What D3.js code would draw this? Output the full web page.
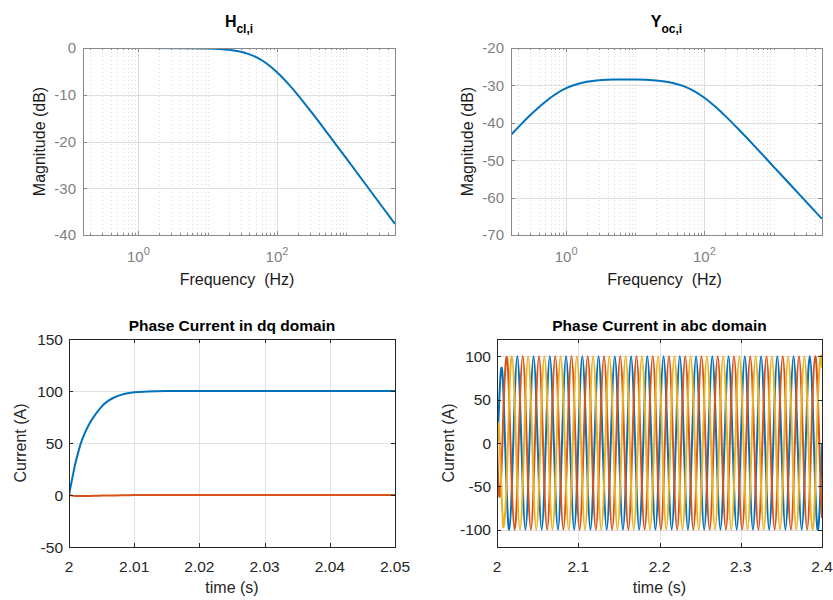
<!DOCTYPE html>
<html lang="en">
<head>
<meta charset="UTF-8">
<title>Current loop response</title>
<script src="https://cdn.jsdelivr.net/npm/d3@7/dist/d3.min.js"></script>
<style>
	body {
		margin: 0;
		background-color: #ffffff;
	}
	svg {
		font-family: "Liberation Sans", Arial, sans-serif;
	}
</style>
</head>
<body>
<div id="chart"></div>

<script>
// ---- Bode magnitudes (Hz, dB) ----
var freqRange = [0.159, 5033];
var freqMajor = [1, 100];

var hclFreq = [0.159, 1, 5, 10, 20, 30, 40, 50, 70, 100, 150, 200, 300, 500, 700, 1000, 2000, 3000, 5033];
var hclMag  = [0, 0, -0.03, -0.1, -0.38, -0.82, -1.36, -1.97, -3.27, -5.18, -7.9, -10.08, -13.36, -17.66, -20.55, -23.63, -29.63, -33.15, -37.65];
var hclTicks = [-40, -30, -20, -10, 0];

var yocFreq = [0.159, 0.2, 0.3, 0.5, 0.7, 1, 1.5, 2, 3, 5, 10, 20, 30, 50, 70, 100, 150, 200, 300, 500, 1000, 2000, 3000, 5033];
var yocMag  = [-43.2, -41.3, -38.0, -34.35, -32.36, -30.75, -29.56, -29.05, -28.65, -28.45, -28.42, -28.66, -29.07, -30.18, -31.44, -33.3, -35.98, -38.15, -41.4, -45.7, -51.7, -57.7, -61.2, -65.7];
var yocTicks = [-70, -60, -50, -40, -30, -20];

// ---- dq currents (time in ms after t = 2 s, current in A) ----
var dqTime = [0, 0.5, 1, 1.5, 2, 3, 4, 5, 6, 7, 8, 9, 10, 12, 15, 20, 30, 50];
var idVals = [0, 16, 31, 43, 53, 67, 77, 85, 90.5, 94, 96.3, 97.8, 98.8, 99.6, 100, 100, 100, 100];
var iqVals = [0, -0.6, -0.9, -1, -1, -0.9, -0.8, -0.6, -0.5, -0.4, -0.3, -0.2, -0.1, 0, 0, 0, 0, 0];
var dqXTicks = [2, 2.01, 2.02, 2.03, 2.04, 2.05];
var dqYTicks = [-50, 0, 50, 100, 150];

// ---- abc currents (time in ms after t = 2 s, current in A) ----
var abcTime = [0, 0.5, 1, 1.5, 2, 2.5, 3, 3.5, 4, 4.5, 5, 5.5, 6, 6.5, 7, 8.3, 11.7,
	15, 18.3, 21.7, 25, 28.3, 31.7, 35, 38.3, 41.7, 45, 48.3, 51.7,
	55, 58.3, 61.7, 65, 68.3, 71.7, 75, 78.3, 81.7, 85, 88.3, 91.7,
	95, 98.3, 101.7, 105, 108.3, 111.7, 115, 118.3, 121.7, 125, 128.3, 131.7,
	135, 138.3, 141.7, 145, 148.3, 151.7, 155, 158.3, 161.7, 165, 168.3, 171.7,
	175, 178.3, 181.7, 185, 188.3, 191.7, 195, 198.3, 201.7, 205, 208.3, 211.7,
	215, 218.3, 221.7, 225, 228.3, 231.7, 235, 238.3, 241.7, 245, 248.3, 251.7,
	255, 258.3, 261.7, 265, 268.3, 271.7, 275, 278.3, 281.7, 285, 288.3, 291.7,
	295, 298.3, 301.7, 305, 308.3, 311.7, 315, 318.3, 321.7, 325, 328.3, 331.7,
	335, 338.3, 341.7, 345, 348.3, 351.7, 355, 358.3, 361.7, 365, 368.3, 371.7,
	375, 378.3, 381.7, 385, 388.3, 391.7, 395, 398.3, 400];
var iaVals = [0, 2.5, 9.6, 19.5, 31.2, 43.1, 54.2, 64.2, 73.2, 80, 85, 86.9, 86.1, 82.4, 76, 48.3, -49.5,
	-100, -50, 50, 100, 50, -50, -100, -50, 50, 100, 50, -50,
	-100, -50, 50, 100, 50, -50, -100, -50, 50, 100, 50, -50,
	-100, -50, 50, 100, 50, -50, -100, -50, 50, 100, 50, -50,
	-100, -50, 50, 100, 50, -50, -100, -50, 50, 100, 50, -50,
	-100, -50, 50, 100, 50, -50, -100, -50, 50, 100, 50, -50,
	-100, -50, 50, 100, 50, -50, -100, -50, 50, 100, 50, -50,
	-100, -50, 50, 100, 50, -50, -100, -50, 50, 100, 50, -50,
	-100, -50, 50, 100, 50, -50, -100, -50, 50, 100, 50, -50,
	-100, -50, 50, 100, 50, -50, -100, -50, 50, 100, 50, -50,
	-100, -50, 50, 100, 50, -50, -100, -50, 0];
var ibVals = [0, -14.9, -30.3, -43, -52.7, -58.9, -62, -61, -57.2, -51, -42.5, -31.5, -18.8, -4.8, 9.8, 48.3, 99,
	50, -50, -100, -50, 50, 100, 50, -50, -100, -50, 50, 100,
	50, -50, -100, -50, 50, 100, 50, -50, -100, -50, 50, 100,
	50, -50, -100, -50, 50, 100, 50, -50, -100, -50, 50, 100,
	50, -50, -100, -50, 50, 100, 50, -50, -100, -50, 50, 100,
	50, -50, -100, -50, 50, 100, 50, -50, -100, -50, 50, 100,
	50, -50, -100, -50, 50, 100, 50, -50, -100, -50, 50, 100,
	50, -50, -100, -50, 50, 100, 50, -50, -100, -50, 50, 100,
	50, -50, -100, -50, 50, 100, 50, -50, -100, -50, 50, 100,
	50, -50, -100, -50, 50, 100, 50, -50, -100, -50, 50, 100,
	50, -50, -100, -50, 50, 100, 50, -50, -86.6];
var icVals = [0, 12.4, 20.7, 23.4, 21.6, 15.8, 7, -3.8, -16, -29, -42.5, -55.4, -67.2, -77.6, -85.9, -96.5, -49.5,
	50, 100, 50, -50, -100, -50, 50, 100, 50, -50, -100, -50,
	50, 100, 50, -50, -100, -50, 50, 100, 50, -50, -100, -50,
	50, 100, 50, -50, -100, -50, 50, 100, 50, -50, -100, -50,
	50, 100, 50, -50, -100, -50, 50, 100, 50, -50, -100, -50,
	50, 100, 50, -50, -100, -50, 50, 100, 50, -50, -100, -50,
	50, 100, 50, -50, -100, -50, 50, 100, 50, -50, -100, -50,
	50, 100, 50, -50, -100, -50, 50, 100, 50, -50, -100, -50,
	50, 100, 50, -50, -100, -50, 50, 100, 50, -50, -100, -50,
	50, 100, 50, -50, -100, -50, 50, 100, 50, -50, -100, -50,
	50, 100, 50, -50, -100, -50, 50, 100, 86.6];
var abcXTicks = [2, 2.1, 2.2, 2.3, 2.4];
var abcYTicks = [-100, -50, 0, 50, 100];

var blue = '#0072bd', red = '#d95319', yellow = '#edb120';

var svg = d3.select('#chart').append('svg')
	.attr('width', 833)
	.attr('height', 600);

var clipId = 0;
function addClip(box) {
	clipId++;
	svg.append('clipPath').attr('id', 'clip' + clipId)
		.append('rect')
		.attr('x', box.l).attr('y', box.t)
		.attr('width', box.r - box.l).attr('height', box.b - box.t);
	return 'url(#clip' + clipId + ')';
}

function hLine(g, y0, box, color, len) {
	g.append('line').attr('x1', box.l).attr('x2', box.l + len).attr('y1', y0).attr('y2', y0).attr('stroke', color);
	g.append('line').attr('x1', box.r).attr('x2', box.r - len).attr('y1', y0).attr('y2', y0).attr('stroke', color);
}
function vLine(g, x0, box, color, len) {
	g.append('line').attr('x1', x0).attr('x2', x0).attr('y1', box.b).attr('y2', box.b - len).attr('stroke', color);
	g.append('line').attr('x1', x0).attr('x2', x0).attr('y1', box.t).attr('y2', box.t + len).attr('stroke', color);
}

function bodePanel(box, freq, mag, yTicks, main, sub) {
	var x = d3.scaleLog().domain(freqRange).range([box.l, box.r]);
	var y = d3.scaleLinear().domain([yTicks[0], yTicks[yTicks.length - 1]]).range([box.b, box.t]);
	var g = svg.append('g');
	var minor = x.ticks().filter(function (d) {
		return freqMajor.indexOf(d) < 0;
	});

	// grid
	g.selectAll('.minor').data(minor).enter().append('line')
		.attr('x1', function (d) { return Math.round(x(d)) + 0.5; })
		.attr('x2', function (d) { return Math.round(x(d)) + 0.5; })
		.attr('y1', box.t).attr('y2', box.b)
		.attr('stroke', '#dcdcdc')
		.attr('stroke-dasharray', '1,3');
	g.selectAll('.majx').data(freqMajor).enter().append('line')
		.attr('x1', function (d) { return Math.round(x(d)) + 0.5; })
		.attr('x2', function (d) { return Math.round(x(d)) + 0.5; })
		.attr('y1', box.t).attr('y2', box.b)
		.attr('stroke', '#dedede');
	g.selectAll('.majy').data(yTicks).enter().append('line')
		.attr('x1', box.l).attr('x2', box.r)
		.attr('y1', function (d) { return Math.round(y(d)) + 0.5; })
		.attr('y2', function (d) { return Math.round(y(d)) + 0.5; })
		.attr('stroke', '#dedede');

	// curve
	var line = d3.line()
		.x(function (d, i) { return x(freq[i]); })
		.y(function (d) { return y(d); })
		.curve(d3.curveMonotoneX);
	g.append('path').datum(mag)
		.attr('clip-path', addClip(box))
		.attr('d', line)
		.attr('fill', 'none')
		.attr('stroke', blue)
		.attr('stroke-width', 2);

	// box and ticks
	var axisColor = '#8a8a8a';
	g.append('rect')
		.attr('x', box.l + 0.5).attr('y', box.t + 0.5)
		.attr('width', box.r - box.l).attr('height', box.b - box.t)
		.attr('fill', 'none').attr('stroke', axisColor);
	yTicks.forEach(function (d) { hLine(g, Math.round(y(d)) + 0.5, box, axisColor, 4); });
	freqMajor.forEach(function (d) { vLine(g, Math.round(x(d)) + 0.5, box, axisColor, 4); });
	minor.forEach(function (d) { vLine(g, Math.round(x(d)) + 0.5, box, axisColor, 2); });

	// tick labels
	g.selectAll('.ylab').data(yTicks).enter().append('text')
		.attr('x', box.l - 7)
		.attr('y', function (d) { return y(d); })
		.attr('dy', '0.36em')
		.attr('text-anchor', 'end')
		.style('font-size', '15px')
		.attr('fill', '#7f7f7f')
		.text(function (d) { return d; });
	var xl = g.selectAll('.xlab').data(freqMajor).enter().append('text')
		.attr('x', function (d) { return x(d); })
		.attr('y', box.b + 27)
		.attr('text-anchor', 'middle')
		.style('font-size', '15px')
		.attr('fill', '#7f7f7f');
	xl.append('tspan').text('10');
	xl.append('tspan')
		.attr('dy', -7)
		.style('font-size', '11px')
		.text(function (d) { return Math.round(Math.log10(d)); });

	// labels
	svg.append('text')
		.attr('x', (box.l + box.r) / 2 - 2)
		.attr('y', box.b + 50)
		.attr('text-anchor', 'middle')
		.style('font-size', '16px')
		.style('white-space', 'pre')
		.attr('fill', '#1a1a1a')
		.text('Frequency  (Hz)');
	svg.append('text')
		.attr('transform', 'translate(' + (box.l - 38) + ',' + ((box.t + box.b) / 2) + ') rotate(-90)')
		.attr('text-anchor', 'middle')
		.style('font-size', '16px')
		.attr('fill', '#1a1a1a')
		.text('Magnitude (dB)');
	var title = svg.append('text')
		.attr('x', (box.l + box.r) / 2)
		.attr('y', 27)
		.attr('text-anchor', 'middle')
		.style('font-weight', 'bold')
		.attr('fill', '#000');
	title.append('tspan').style('font-size', '16px').text(main);
	title.append('tspan').attr('dy', 6).style('font-size', '12px').text(sub);
}

function timePanel(box, xTicks, yTicks, yDomain, times, series, colors, titleText) {
	var x = d3.scaleLinear().domain([xTicks[0], xTicks[xTicks.length - 1]]).range([box.l, box.r]);
	var y = d3.scaleLinear().domain(yDomain).range([box.b, box.t]);
	var g = svg.append('g');
	var axisColor = '#262626';

	g.selectAll('.gx').data(xTicks).enter().append('line')
		.attr('x1', function (d) { return Math.round(x(d)) + 0.5; })
		.attr('x2', function (d) { return Math.round(x(d)) + 0.5; })
		.attr('y1', box.t).attr('y2', box.b)
		.attr('stroke', '#e1e1e1');
	g.selectAll('.gy').data(yTicks).enter().append('line')
		.attr('x1', box.l).attr('x2', box.r)
		.attr('y1', function (d) { return Math.round(y(d)) + 0.5; })
		.attr('y2', function (d) { return Math.round(y(d)) + 0.5; })
		.attr('stroke', '#e1e1e1');

	var clip = addClip(box);
	series.forEach(function (vals, k) {
		var line = d3.line()
			.x(function (d, i) { return x(2 + times[i] / 1000); })
			.y(function (d) { return y(d); })
			.curve(d3.curveNatural);
		g.append('path').datum(vals)
			.attr('clip-path', clip)
			.attr('d', line)
			.attr('fill', 'none')
			.attr('stroke', colors[k])
			.attr('stroke-width', 2);
	});

	g.append('rect')
		.attr('x', box.l + 0.5).attr('y', box.t + 0.5)
		.attr('width', box.r - box.l).attr('height', box.b - box.t)
		.attr('fill', 'none').attr('stroke', axisColor);
	yTicks.forEach(function (d) { hLine(g, Math.round(y(d)) + 0.5, box, axisColor, 4); });
	xTicks.forEach(function (d) { vLine(g, Math.round(x(d)) + 0.5, box, axisColor, 4); });

	g.selectAll('.ylab').data(yTicks).enter().append('text')
		.attr('x', box.l - 6)
		.attr('y', function (d) { return y(d); })
		.attr('dy', '0.36em')
		.attr('text-anchor', 'end')
		.style('font-size', '15.5px')
		.attr('fill', '#262626')
		.text(function (d) { return d; });
	g.selectAll('.xlab').data(xTicks).enter().append('text')
		.attr('x', function (d) { return x(d); })
		.attr('y', box.b + 25)
		.attr('text-anchor', 'middle')
		.style('font-size', '15.5px')
		.attr('fill', '#262626')
		.text(function (d) { return d; });

	svg.append('text')
		.attr('x', (box.l + box.r) / 2)
		.attr('y', box.b + 46)
		.attr('text-anchor', 'middle')
		.style('font-size', '16px')
		.attr('fill', '#262626')
		.text('time (s)');
	svg.append('text')
		.attr('transform', 'translate(' + (box.l - 43) + ',' + ((box.t + box.b) / 2) + ') rotate(-90)')
		.attr('text-anchor', 'middle')
		.style('font-size', '16px')
		.attr('fill', '#262626')
		.text('Current (A)');
	svg.append('text')
		.attr('x', (box.l + box.r) / 2)
		.attr('y', box.t - 8)
		.attr('text-anchor', 'middle')
		.style('font-size', '15.5px')
		.style('font-weight', 'bold')
		.attr('fill', '#000')
		.text(titleText);
}

bodePanel({l: 83, r: 395, t: 48, b: 235}, hclFreq, hclMag, hclTicks, 'H', 'cl,i');
bodePanel({l: 511, r: 822, t: 48, b: 235}, yocFreq, yocMag, yocTicks, 'Y', 'oc,i');

timePanel({l: 69, r: 395, t: 339, b: 547}, dqXTicks, dqYTicks, [-50, 150],
	dqTime, [idVals, iqVals], [blue, red], 'Phase Current in dq domain');
timePanel({l: 497, r: 822, t: 339, b: 547}, abcXTicks, abcYTicks, [-120, 120],
	abcTime, [iaVals, ibVals, icVals], [blue, red, yellow], 'Phase Current in abc domain');
</script>
</body>
</html>
